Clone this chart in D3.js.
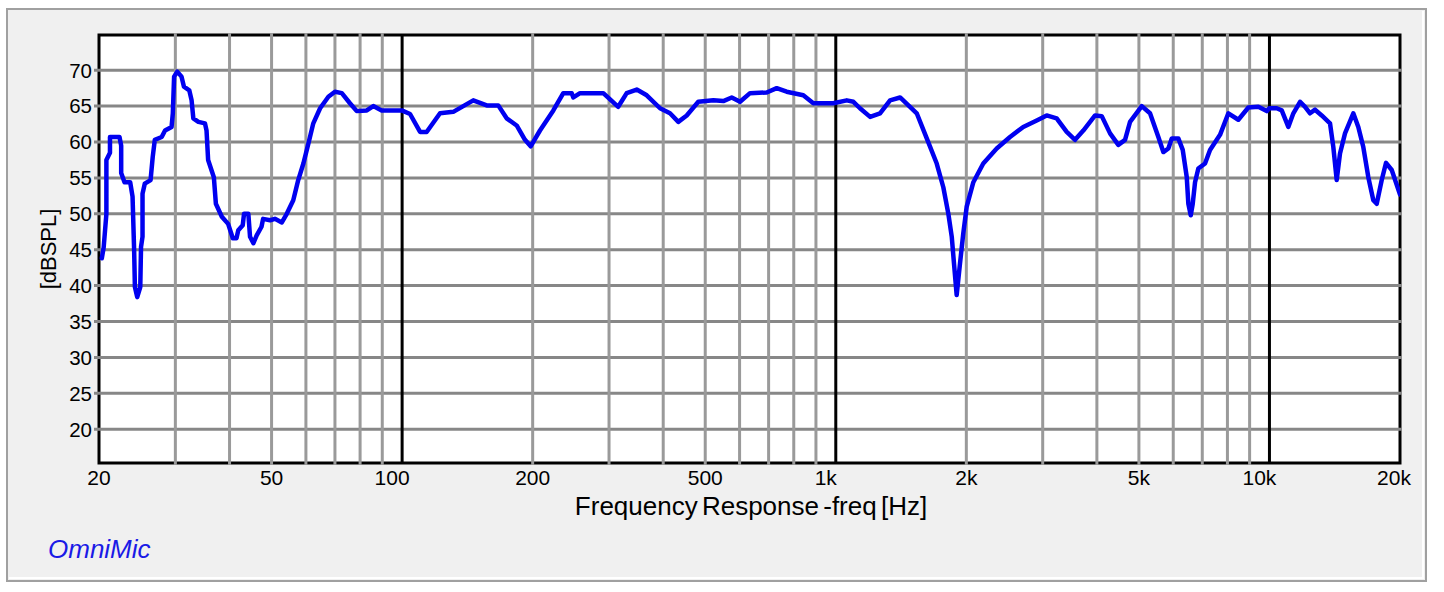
<!DOCTYPE html>
<html>
<head>
<meta charset="utf-8">
<script src="https://cdn.jsdelivr.net/npm/d3@7"></script>
<style>
  body { margin: 0; background: #fff; }
  svg text { font-family: "Liberation Sans", Arial, sans-serif; fill: #000; }
</style>
</head>
<body>
<div id="chart"></div>
<script>
// response curve
const freqHz = [
  20.3, 20.5, 20.8, 20.8, 21.2, 21.2, 22.3, 22.5, 22.5, 22.9, 23.6, 23.9, 24.1, 24.2, 24.5,
  24.9, 25.0, 25.2, 25.2, 25.5, 26.3, 26.6, 26.9, 27.9, 28.4, 29.4, 29.6, 29.8, 30.3, 31.0,
  31.4, 32.3, 32.7, 33.0, 33.9, 35.1, 35.4, 35.7, 36.8, 37.2, 38.4, 39.7, 40.7, 41.5, 41.9,
  42.9, 43.2, 44.2, 44.6, 45.4, 46.2, 47.4, 47.8, 49.6, 50.9, 52.8, 54.2, 56.1, 57.6, 59.2,
  60.8, 62.4, 64.7, 67.6, 70.0, 72.6, 75.8, 78.6, 82.9, 85.8, 89.7, 99.8, 104.3, 110, 113.9,
  122.3, 131.2, 145.9, 156.7, 166.6, 174.2, 183.7, 192, 197.9, 207.9, 223.2, 235.3, 246.1, 248.2, 257.2,
  291, 315, 329.5, 347.5, 366.5, 393.3, 414.7, 433.4, 453.2, 481.9, 522, 550.4, 575.5, 601.5, 634.2,
  692.9, 730.7, 770.5, 841.6, 887.5, 986.9, 1060, 1098, 1137, 1200, 1265, 1334, 1407, 1483, 1537,
  1621, 1709, 1770, 1818, 1851, 1873, 1900, 1934, 1968, 2004, 2076, 2188, 2350, 2522, 2706,
  2906, 3064, 3231, 3408, 3562, 3722, 3962, 4105, 4290, 4482, 4645, 4770, 5076, 5304, 5544,
  5693, 5846, 5953, 6164, 6310, 6446, 6501, 6584, 6654, 6736, 6855, 7103, 7294, 7692, 8039,
  8477, 8940, 9428, 9857, 9994, 10394, 10674, 11054, 11353, 11765, 12081, 12406, 12739, 13198, 13793,
  14037, 14291, 14544, 14936, 15609, 16028, 16460, 16903, 17358, 17675, 18151, 18570, 19142, 20000
];
const splDb = [
  43.8, 45.3, 50.0, 57.5, 58.5, 60.7, 60.7, 59.5, 55.7, 54.4, 54.4, 52.4, 45.0, 39.8, 38.4,
  39.8, 45.4, 46.8, 52.8, 54.2, 54.7, 57.9, 60.3, 60.7, 61.6, 62.1, 64.0, 69.1, 69.8, 69.1,
  67.7, 67.2, 65.8, 63.3, 62.8, 62.6, 61.6, 57.5, 55.1, 51.4, 49.6, 48.6, 46.6, 46.6, 47.7,
  48.4, 50.0, 50.0, 46.8, 45.9, 47.0, 48.2, 49.3, 49.1, 49.3, 48.8, 50.0, 51.9, 54.7, 57.0,
  59.8, 62.6, 64.7, 66.3, 67.0, 66.8, 65.4, 64.3, 64.4, 65.0, 64.4, 64.4, 63.9, 61.4, 61.4,
  64.0, 64.2, 65.8, 65.1, 65.1, 63.3, 62.3, 60.3, 59.4, 61.6, 64.4, 66.8, 66.8, 66.2, 66.8,
  66.8, 64.9, 66.8, 67.3, 66.5, 64.7, 64.0, 62.8, 63.7, 65.6, 65.8, 65.7, 66.2, 65.6, 66.8,
  66.9, 67.5, 67.0, 66.5, 65.4, 65.4, 65.8, 65.6, 64.7, 63.5, 64.0, 65.8, 66.2, 64.9, 64.0,
  60.5, 57.0, 53.7, 50.0, 46.8, 43.1, 38.7, 43.1, 47.3, 51.0, 54.4, 57.0, 59.1, 60.7, 62.1,
  63.0, 63.7, 63.3, 61.4, 60.3, 61.6, 63.7, 63.6, 61.2, 59.6, 60.3, 62.8, 65.0, 64.0, 60.7,
  58.6, 59.1, 60.5, 60.5, 58.9, 55.1, 51.4, 49.8, 51.4, 54.4, 56.3, 57.0, 58.9, 61.0, 64.0,
  63.1, 64.8, 64.9, 64.3, 64.7, 64.7, 64.4, 62.1, 64.0, 65.6, 64.9, 64.0, 64.5, 63.7, 62.6,
  59.3, 54.7, 58.4, 61.2, 64.0, 62.1, 59.3, 55.1, 51.9, 51.4, 54.7, 57.1, 56.1, 52.7
];

const yTicks = [20, 25, 30, 35, 40, 45, 50, 55, 60, 65, 70];
const xTicks = [20, 50, 100, 200, 500, 1000, 2000, 5000, 10000, 20000];
const xTickLabels = ["20", "50", "100", "200", "500", "1k", "2k", "5k", "10k", "20k"];
const minorGrid = [30, 40, 50, 60, 70, 80, 90, 200, 300, 400, 500, 600, 700, 800, 900,
  2000, 3000, 4000, 5000, 6000, 7000, 8000, 9000];
const decadeGrid = [100, 1000, 10000];

const width = 1444, height = 592;
const svg = d3.select("#chart").append("svg")
  .attr("width", width).attr("height", height);

const x = d3.scaleLog().domain([20, 20000]).range([99, 1400]);
const y = d3.scaleLinear().domain([15.3, 74.9]).range([463, 35]);

const plotL = x.range()[0], plotR = x.range()[1];
const plotT = y.range()[1], plotB = y.range()[0];

// outer panel
svg.append("rect")
  .attr("x", 7).attr("y", 9).attr("width", 1419).attr("height", 572)
  .attr("fill", "#f0f0f0").attr("stroke", "#a0a0a0").attr("stroke-width", 2);
svg.append("path")
  .attr("d", "M1423,11V578H9")
  .attr("fill", "none").attr("stroke", "#fff").attr("stroke-width", 2);

// plot area
svg.append("rect")
  .attr("x", plotL).attr("y", plotT).attr("width", plotR - plotL).attr("height", plotB - plotT)
  .attr("fill", "#fff").attr("stroke", "#000").attr("stroke-width", 3);

// horizontal grid
svg.append("g").selectAll("line")
  .data(yTicks).join("line")
  .attr("x1", plotL - 5).attr("x2", plotR + 2)
  .attr("y1", d => y(d)).attr("y2", d => y(d))
  .attr("stroke", "#878787").attr("stroke-width", 3);

// vertical grid
svg.append("g").selectAll("line")
  .data(minorGrid).join("line")
  .attr("x1", d => x(d)).attr("x2", d => x(d))
  .attr("y1", plotT - 2).attr("y2", plotB + 2)
  .attr("stroke", "#9a9a9a").attr("stroke-width", 3);

svg.append("g").selectAll("line")
  .data(decadeGrid).join("line")
  .attr("x1", d => x(d)).attr("x2", d => x(d))
  .attr("y1", plotT).attr("y2", plotB)
  .attr("stroke", "#000").attr("stroke-width", 3);

// response curve
svg.append("clipPath").attr("id", "plot-clip")
  .append("rect")
  .attr("x", plotL).attr("y", plotT).attr("width", plotR - plotL).attr("height", plotB - plotT);

const pts = freqHz.map((f, i) => ({ f, v: splDb[i] }));
const line = d3.line().x(d => x(d.f)).y(d => y(d.v));

svg.append("path")
  .datum(pts)
  .attr("clip-path", "url(#plot-clip)")
  .attr("d", line)
  .attr("fill", "none")
  .attr("stroke", "#0000f0")
  .attr("stroke-width", 4.5)
  .attr("stroke-linejoin", "round")
  .attr("stroke-linecap", "round");

// y labels
svg.append("g").selectAll("text")
  .data(yTicks).join("text")
  .attr("x", 92).attr("y", d => y(d))
  .attr("dy", "0.36em")
  .attr("text-anchor", "end")
  .attr("font-size", 20.5)
  .text(d => d);

// x labels (decade labels sit a little left of their line)
svg.append("g").selectAll("text")
  .data(xTicks).join("text")
  .attr("x", d => x(d) + (d === 20000 ? -6 : (decadeGrid.includes(d) ? -10 : 0)))
  .attr("y", 485)
  .attr("text-anchor", "middle")
  .attr("font-size", 21)
  .text((d, i) => xTickLabels[i]);

svg.append("text")
  .attr("x", 751).attr("y", 515)
  .attr("text-anchor", "middle")
  .attr("font-size", 26)
  .attr("word-spacing", -3)
  .text("Frequency Response -freq [Hz]");

svg.append("text")
  .attr("transform", `translate(56,${(plotT + plotB) / 2}) rotate(-90)`)
  .attr("text-anchor", "middle")
  .attr("font-size", 22)
  .text("[dBSPL]");

svg.append("text")
  .attr("x", 48).attr("y", 558)
  .attr("font-size", 26)
  .attr("font-style", "italic")
  .style("fill", "#1a1ae6")
  .text("OmniMic");
</script>
</body>
</html>
